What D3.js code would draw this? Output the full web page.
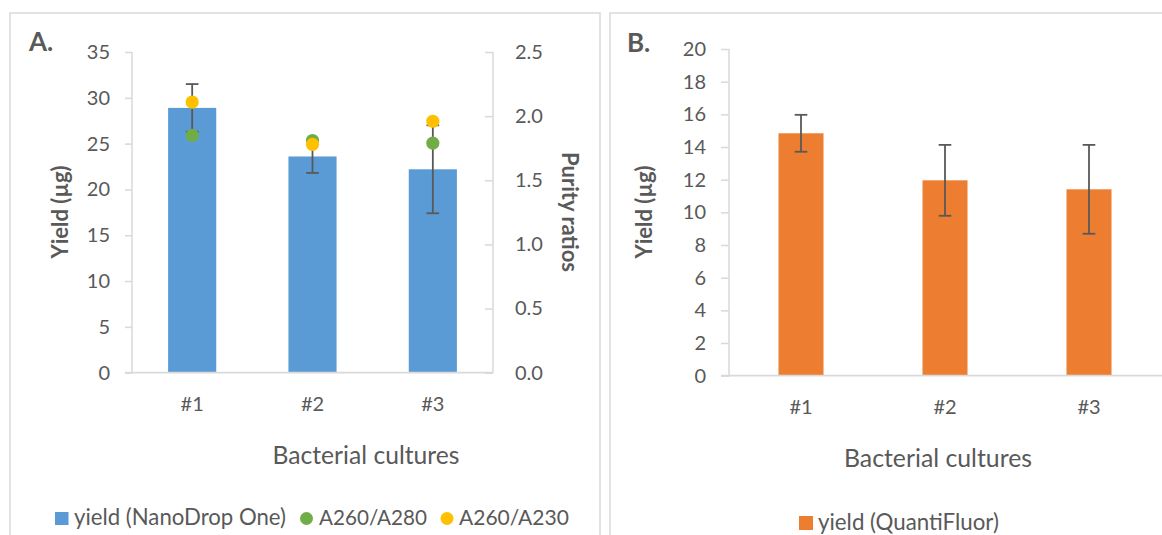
<!DOCTYPE html>
<html>
<head>
  <meta charset="utf-8">
  <script src="https://d3js.org/d3.v7.min.js"></script>
  <style>
    body { margin: 0; background: #fff; }
    text { font-family: Lato, "Noto Sans", sans-serif; fill: #595959; }
  </style>
</head>
<body>
  <script>
  // data
  var cultures = ["#1", "#2", "#3"];
  var yieldNanoDrop = [28.9, 23.6, 22.2];
  var yieldNanoDropErr = [2.6, 1.8, 4.8];
  var ratio260280 = [1.85, 1.81, 1.79];
  var ratio260230 = [2.11, 1.78, 1.96];
  var yieldQuantiFluor = [14.84, 11.96, 11.41];
  var yieldQuantiFluorErr = [1.13, 2.17, 2.72];
  var ticksA = [0, 5, 10, 15, 20, 25, 30, 35];
  var ticksRatio = [0, 0.5, 1.0, 1.5, 2.0, 2.5];
  var ticksB = [0, 2, 4, 6, 8, 10, 12, 14, 16, 18, 20];

  var blue = "#5B9BD5", orange = "#ED7D31", green = "#70AD47", yellow = "#FFC000";
  var grey = "#595959", lineGrey = "#D9D9D9";

  var width = 1162, height = 535;
  var svg = d3.select("body").append("svg").attr("width", width).attr("height", height);

  // shrink or grow a text until it has the width seen in the figure
  function fitWidth(sel, target) {
    var s = parseFloat(sel.attr("font-size"));
    var w = sel.node().getComputedTextLength();
    sel.attr("font-size", (s * target / w).toFixed(2));
    return sel;
  }

  // panel frames
  svg.append("rect").attr("x", 10).attr("y", 13).attr("width", 590).attr("height", 540)
    .attr("fill", "none").attr("stroke", lineGrey).attr("stroke-width", 1.5);
  svg.append("rect").attr("x", 610).attr("y", 13).attr("width", 600).attr("height", 540)
    .attr("fill", "none").attr("stroke", lineGrey).attr("stroke-width", 1.5);

  var tickFont = 20;

  function styleAxis(g) {
    g.selectAll(".domain").remove();
    g.selectAll(".tick line").attr("stroke", lineGrey).attr("stroke-width", 1.5);
    g.selectAll(".tick text").attr("font-size", tickFont).attr("fill", grey)
      .style("font-family", "Lato, 'Noto Sans', sans-serif");
  }

  function errorBars(g, x, y, vals, errs) {
    var eb = g.append("g").attr("stroke", grey).attr("stroke-width", 1.8);
    cultures.forEach(function(c, i) {
      var cx = x(c) + x.bandwidth() / 2;
      var hi = y(vals[i] + errs[i]), lo = y(vals[i] - errs[i]);
      eb.append("line").attr("x1", cx).attr("x2", cx).attr("y1", hi).attr("y2", lo);
      eb.append("line").attr("x1", cx - 6.3).attr("x2", cx + 6.3).attr("y1", hi).attr("y2", hi);
      eb.append("line").attr("x1", cx - 6.3).attr("x2", cx + 6.3).attr("y1", lo).attr("y2", lo);
    });
  }

  // ---------- panel A ----------
  var xA = d3.scaleBand().domain(cultures).range([132, 493]).paddingInner(0.6).paddingOuter(0.3);
  var yA = d3.scaleLinear().domain([0, 35]).range([372.7, 52]);
  var yR = d3.scaleLinear().domain([0, 2.5]).range([372.7, 52]);

  var gA = svg.append("g");

  gA.append("g").attr("transform", "translate(132,0)")
    .call(d3.axisLeft(yA).tickValues(ticksA).tickSize(7).tickPadding(15))
    .call(styleAxis);
  gA.append("g").attr("transform", "translate(493,0)")
    .call(d3.axisRight(yR).tickValues(ticksRatio).tickSize(-8).tickPadding(22).tickFormat(d3.format(".1f")))
    .call(styleAxis);
  gA.append("line").attr("x1", 132).attr("x2", 132).attr("y1", yA(35)).attr("y2", yA(0))
    .attr("stroke", lineGrey).attr("stroke-width", 1.5);
  gA.append("line").attr("x1", 493).attr("x2", 493).attr("y1", yR(2.5)).attr("y2", yR(0))
    .attr("stroke", lineGrey).attr("stroke-width", 1.5);

  gA.selectAll("rect.bar").data(yieldNanoDrop).enter().append("rect")
    .attr("class", "bar")
    .attr("x", function(d, i) { return xA(cultures[i]); })
    .attr("width", xA.bandwidth())
    .attr("y", function(d) { return yA(d); })
    .attr("height", function(d) { return yA(0) - yA(d); })
    .attr("fill", blue);

  var xAxisA = gA.append("g").attr("transform", "translate(0," + yA(0) + ")")
    .call(d3.axisBottom(xA).tickSize(0).tickPadding(24));
  xAxisA.select(".domain").remove();
  xAxisA.selectAll(".tick text").attr("font-size", tickFont).attr("fill", grey)
    .style("font-family", "Lato, 'Noto Sans', sans-serif");
  gA.append("line").attr("x1", 125).attr("x2", 493).attr("y1", yA(0)).attr("y2", yA(0))
    .attr("stroke", lineGrey).attr("stroke-width", 1.8);

  errorBars(gA, xA, yA, yieldNanoDrop, yieldNanoDropErr);

  gA.selectAll("circle.r280").data(ratio260280).enter().append("circle")
    .attr("class", "r280")
    .attr("cx", function(d, i) { return xA(cultures[i]) + xA.bandwidth() / 2; })
    .attr("cy", function(d) { return yR(d); })
    .attr("r", 6.6).attr("fill", green);
  gA.selectAll("circle.r230").data(ratio260230).enter().append("circle")
    .attr("class", "r230")
    .attr("cx", function(d, i) { return xA(cultures[i]) + xA.bandwidth() / 2; })
    .attr("cy", function(d) { return yR(d); })
    .attr("r", 6.6).attr("fill", yellow);

  gA.append("text").attr("x", 29).attr("y", 51).attr("font-size", 26).attr("font-weight", "bold")
    .attr("fill", grey).text("A.");

  gA.append("text").attr("transform", "translate(68,212) rotate(-90)")
    .attr("text-anchor", "middle").attr("font-size", 22).attr("font-weight", "bold")
    .text("Yield (µg)");
  gA.append("text").attr("transform", "translate(562,212) rotate(90)")
    .attr("text-anchor", "middle").attr("font-size", 22).attr("font-weight", "bold")
    .text("Purity ratios");

  fitWidth(gA.append("text").attr("x", 366).attr("y", 464).attr("text-anchor", "middle")
    .attr("font-size", 22).text("Bacterial cultures"), 187);

  // legend A
  gA.append("rect").attr("x", 55).attr("y", 512).attr("width", 13.5).attr("height", 13).attr("fill", blue);
  fitWidth(gA.append("text").attr("x", 74).attr("y", 525).attr("font-size", 19).text("yield (NanoDrop One)"), 212);
  gA.append("circle").attr("cx", 306.5).attr("cy", 518.5).attr("r", 6.5).attr("fill", green);
  fitWidth(gA.append("text").attr("x", 319).attr("y", 525).attr("font-size", 19).text("A260/A280"), 108);
  gA.append("circle").attr("cx", 447).attr("cy", 518.5).attr("r", 6.5).attr("fill", yellow);
  fitWidth(gA.append("text").attr("x", 459).attr("y", 525).attr("font-size", 19).text("A260/A230"), 110);

  // ---------- panel B ----------
  var xB = d3.scaleBand().domain(cultures).range([729, 1161]).paddingInner(0.6875).paddingOuter(0.34375);
  var yB = d3.scaleLinear().domain([0, 20]).range([375.7, 49]);

  var gB = svg.append("g");

  gB.append("g").attr("transform", "translate(729,0)")
    .call(d3.axisLeft(yB).tickValues(ticksB).tickSize(8).tickPadding(15))
    .call(styleAxis);
  gB.append("line").attr("x1", 729).attr("x2", 729).attr("y1", yB(20)).attr("y2", yB(0))
    .attr("stroke", lineGrey).attr("stroke-width", 1.5);

  gB.selectAll("rect.bar").data(yieldQuantiFluor).enter().append("rect")
    .attr("class", "bar")
    .attr("x", function(d, i) { return xB(cultures[i]); })
    .attr("width", xB.bandwidth())
    .attr("y", function(d) { return yB(d); })
    .attr("height", function(d) { return yB(0) - yB(d); })
    .attr("fill", orange);

  var xAxisB = gB.append("g").attr("transform", "translate(0," + yB(0) + ")")
    .call(d3.axisBottom(xB).tickSize(0).tickPadding(24));
  xAxisB.select(".domain").remove();
  xAxisB.selectAll(".tick text").attr("font-size", tickFont).attr("fill", grey)
    .style("font-family", "Lato, 'Noto Sans', sans-serif");
  gB.append("line").attr("x1", 721).attr("x2", 1162).attr("y1", yB(0)).attr("y2", yB(0))
    .attr("stroke", lineGrey).attr("stroke-width", 1.8);

  errorBars(gB, xB, yB, yieldQuantiFluor, yieldQuantiFluorErr);

  gB.append("text").attr("x", 627).attr("y", 52).attr("font-size", 26).attr("font-weight", "bold")
    .attr("fill", grey).text("B.");

  gB.append("text").attr("transform", "translate(652,212) rotate(-90)")
    .attr("text-anchor", "middle").attr("font-size", 22).attr("font-weight", "bold")
    .text("Yield (µg)");

  fitWidth(gB.append("text").attr("x", 938).attr("y", 467).attr("text-anchor", "middle")
    .attr("font-size", 22).text("Bacterial cultures"), 188);

  // legend B
  gB.append("rect").attr("x", 799).attr("y", 516).attr("width", 14).attr("height", 14).attr("fill", orange);
  fitWidth(gB.append("text").attr("x", 818).attr("y", 530).attr("font-size", 19).text("yield (QuantiFluor)"), 181);
  </script>
</body>
</html>
